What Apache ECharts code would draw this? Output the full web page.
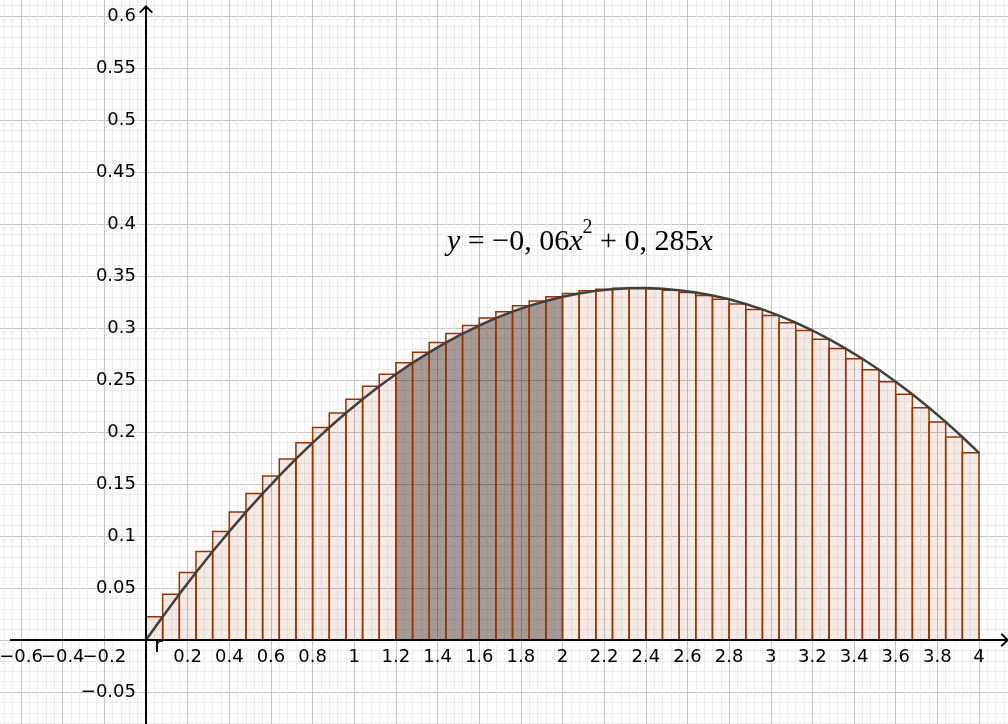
<!DOCTYPE html>
<html>
<head>
<meta charset="utf-8">
<script src="https://cdn.jsdelivr.net/npm/echarts@6/dist/echarts.min.js"></script>
<style>
  html, body { margin: 0; padding: 0; background: #fff; }
  #chart { width: 1008px; height: 724px; }
</style>
</head>
<body>
<div id="chart"></div>
<script>
// Riemann sum of y = -0.06x^2 + 0.285x on [0, 4], 50 rectangles (right endpoints)
const binEdges = [0, 0.08, 0.16, 0.24, 0.32, 0.4, 0.48, 0.56, 0.64, 0.72, 0.8, 0.88, 0.96,
  1.04, 1.12, 1.2, 1.28, 1.36, 1.44, 1.52, 1.6, 1.68, 1.76, 1.84, 1.92, 2, 2.08, 2.16, 2.24,
  2.32, 2.4, 2.48, 2.56, 2.64, 2.72, 2.8, 2.88, 2.96, 3.04, 3.12, 3.2, 3.28, 3.36, 3.44, 3.52,
  3.6, 3.68, 3.76, 3.84, 3.92, 4];
const barHeight = [0.0224, 0.0441, 0.0649, 0.0851, 0.1044, 0.1230, 0.1408, 0.1578, 0.1741, 0.1896,
  0.2043, 0.2183, 0.2315, 0.2439, 0.2556, 0.2665, 0.2766, 0.2860, 0.2946, 0.3024,
  0.3095, 0.3157, 0.3213, 0.3260, 0.3300, 0.3332, 0.3357, 0.3373, 0.3383, 0.3384,
  0.3378, 0.3364, 0.3342, 0.3313, 0.3276, 0.3231, 0.3179, 0.3119, 0.3051, 0.2976,
  0.2893, 0.2802, 0.2704, 0.2598, 0.2484, 0.2363, 0.2233, 0.2097, 0.1952, 0.1800];
// curve passes through the top right corner of each rectangle
const curveX = binEdges;
const curveY = [0].concat(barHeight);
const shadeRange = [1.2, 2];
const xRange = [-0.8, 4.2];
const yRange = [-0.1, 0.65];
const formula = "{i|y}{n| = \u22120, 06}{i|x}{s|2}{n| + 0, 285}{i|x}";

const bars = barHeight.map((h, i) => [binEdges[i], binEdges[i + 1], h]);
const curve = curveX.map((x, i) => [x, curveY[i]]);
const shaded = curve.filter(p => p[0] >= shadeRange[0] - 1e-9 && p[0] <= shadeRange[1] + 1e-9);

function tickText(v, lo, hi) {
  const n = Number(v);
  if (!isFinite(n) || Math.abs(n) < 1e-9 || n < lo || n > hi) return "";
  return String(+n.toFixed(2)).replace("-", "\u2212");
}
const fmtX = v => tickText(v, -0.65, 4.05);
const fmtY = v => tickText(v, -0.075, 0.62);

const arrow = "path://M7,0L14,7L12.6,8.4L7,2.8L1.4,8.4L0,7ZM6,1L8,1L8,20L6,20Z";

const chart = echarts.init(document.getElementById("chart"));

// pixel layout: x = 0 at 146px, 208.25px per unit; y = 0 at 640px, 1040px per unit
const plotBox = { left: -20.6, top: -36, width: 1041.25, height: 780, outerBoundsMode: "none" };
const labelStyle = { show: true, fontFamily: "DejaVu Sans", fontSize: 18, color: "#000" };
const major = { show: true, lineStyle: { color: "#c4c4c4", width: 1, type: "solid" } };
const minor = { show: true, lineStyle: { color: "#ececec", width: 1, type: "solid" } };
const off = { show: false };
const noLine = { show: false, onZero: false };

chart.setOption({
  animation: false,
  backgroundColor: "#fff",
  grid: [
    plotBox,
    // x tick labels hang under the x = 0 line
    { left: -20.6, top: 0, width: 1041.25, height: 640, outerBoundsMode: "none" },
    // y tick labels sit left of the y = 0 line
    { left: 146, top: -36, width: 600, height: 780, outerBoundsMode: "none" }
  ],
  xAxis: [
    {
      type: "value", gridIndex: 0, min: xRange[0], max: xRange[1], interval: 0.2,
      axisLine: noLine, axisTick: off, axisLabel: off,
      splitLine: major,
      minorTick: { show: false, splitNumber: 5 },
      minorSplitLine: minor
    },
    {
      type: "value", gridIndex: 1, position: "bottom", min: xRange[0], max: xRange[1], interval: 0.2,
      axisLine: noLine, axisTick: off, splitLine: off,
      axisLabel: Object.assign({ margin: 8, formatter: fmtX, hideOverlap: false }, labelStyle)
    },
    { type: "value", gridIndex: 2, show: false, min: 0, max: 1, axisLine: noLine }
  ],
  yAxis: [
    {
      type: "value", gridIndex: 0, min: yRange[0], max: yRange[1], interval: 0.05,
      axisLine: noLine, axisTick: off, axisLabel: off,
      splitLine: major,
      minorTick: { show: false, splitNumber: 5 },
      minorSplitLine: minor
    },
    { type: "value", gridIndex: 1, show: false, min: 0, max: 1, axisLine: noLine },
    {
      type: "value", gridIndex: 2, position: "left", min: yRange[0], max: yRange[1], interval: 0.05,
      axisLine: noLine, axisTick: off, splitLine: off,
      axisLabel: Object.assign({ margin: 10, formatter: fmtY, hideOverlap: false }, labelStyle)
    }
  ],
  series: [
    {
      type: "line", data: shaded, symbol: "none", silent: true, z: 1,
      lineStyle: { width: 0 },
      areaStyle: { color: "rgba(0,0,0,0.35)", opacity: 1 }
    },
    {
      type: "custom", data: bars, silent: true, z: 2,
      renderItem: (params, api) => {
        const p0 = api.coord([api.value(0), api.value(2)]);
        const p1 = api.coord([api.value(1), 0]);
        return {
          type: "rect",
          shape: { x: p0[0], y: p0[1], width: p1[0] - p0[0], height: p1[1] - p0[1] },
          style: { fill: "rgba(153,51,0,0.1)", stroke: "rgb(153,51,0)", lineWidth: 1.5 }
        };
      }
    },
    {
      type: "line", data: curve, symbol: "none", silent: true, z: 3,
      lineStyle: { color: "#404040", width: 2.5 },
      markLine: {
        silent: true, animation: false,
        symbol: ["none", arrow], symbolSize: [14, 20],
        lineStyle: { color: "#000", width: 2, type: "solid" },
        label: { show: false },
        emphasis: { disabled: true },
        data: [
          [{ coord: [0, -0.1] }, { coord: [0, 0.601] }],
          [{ coord: [-0.653, 0] }, { coord: [4.096, 0] }]
        ]
      }
    }
  ],
  graphic: [
    {
      type: "text", x: 447, y: 242, z: 10, silent: true,
      style: {
        text: formula, align: "left", verticalAlign: "middle", fill: "#000",
        fontFamily: "Liberation Serif", fontSize: 30,
        rich: {
          i: { fontFamily: "Liberation Serif", fontStyle: "italic", fontSize: 30, fill: "#000" },
          n: { fontFamily: "Liberation Serif", fontSize: 30, fill: "#000" },
          s: { fontFamily: "Liberation Serif", fontSize: 20, fill: "#000", padding: [0, 0, 28, 0] }
        }
      }
    },
    {
      type: "text", x: 154, y: 646, z: 10, silent: true,
      style: { text: "r", fill: "#000", fontFamily: "DejaVu Sans", fontSize: 22, verticalAlign: "middle" }
    }
  ]
});
</script>
</body>
</html>
